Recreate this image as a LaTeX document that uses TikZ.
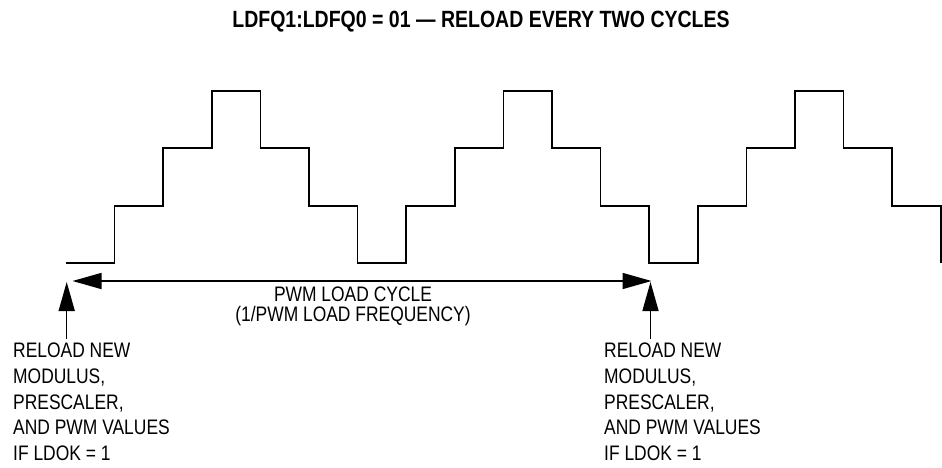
\documentclass[tikz,border=0pt]{standalone}
\usepackage{fontspec}
\setmainfont{Liberation Sans}[FakeStretch=0.83]
\usetikzlibrary{arrows.meta,positioning}

\begin{document}
\begin{tikzpicture}[
  x=1pt, y=-1pt,
  >={Triangle[length=29pt,width=16pt]},
  every node/.style={font=\fontsize{21}{25.6}\selectfont, inner sep=0pt},
  heading/.style={font=\fontsize{23.5}{28}\selectfont\bfseries},
  note/.style={align=left, anchor=north west},
  wave/.style={line width=1.6pt},
  arr/.style={->, line width=1.5pt}
]
\useasboundingbox (0,0) rectangle (942,468);

\node[heading] (title) at (481,22) {LDFQ1:LDFQ0 = 01 — RELOAD EVERY TWO CYCLES};

% stepped waveform, three load periods
\draw[wave] (66,263) -| (114.6,205.7) -| (163.2,148.3) -| (211.8,91)
  -| (260.4,148.3) -| (309,205.7) -| (357.6,263) -| (406.2,205.7)
  -| (454.8,148.3) -| (503.4,91) -| (552,148.3) -| (600.6,205.7)
  -| (649.2,263) -| (697.8,205.7) -| (746.4,148.3) -| (795,91)
  -| (843.6,148.3) -| (892.2,205.7) -| (940.8,263);

\coordinate (tipA) at (66.7,282);
\coordinate (tipB) at (650.5,282);
\coordinate (loadL) at (72.5,281);
\coordinate (loadR) at (651.5,281);

\node[align=center, anchor=north, font=\fontsize{21}{19.5}\selectfont] (cycle) at (353,287) {PWM LOAD CYCLE\\(1/PWM LOAD FREQUENCY)};

\node[note] (relA) at (13,343) {RELOAD NEW\\MODULUS,\\PRESCALER,\\AND PWM VALUES\\IF LDOK = 1};
\node[note] (relB) at (604,343) {RELOAD NEW\\MODULUS,\\PRESCALER,\\AND PWM VALUES\\IF LDOK = 1};

\draw[arr, <->] (loadL) -- (loadR);
\draw[arr, shorten <=4pt] (tipA |- relA.north) -- (tipA);
\draw[arr, shorten <=4pt] (tipB |- relB.north) -- (tipB);
\end{tikzpicture}
\end{document}
